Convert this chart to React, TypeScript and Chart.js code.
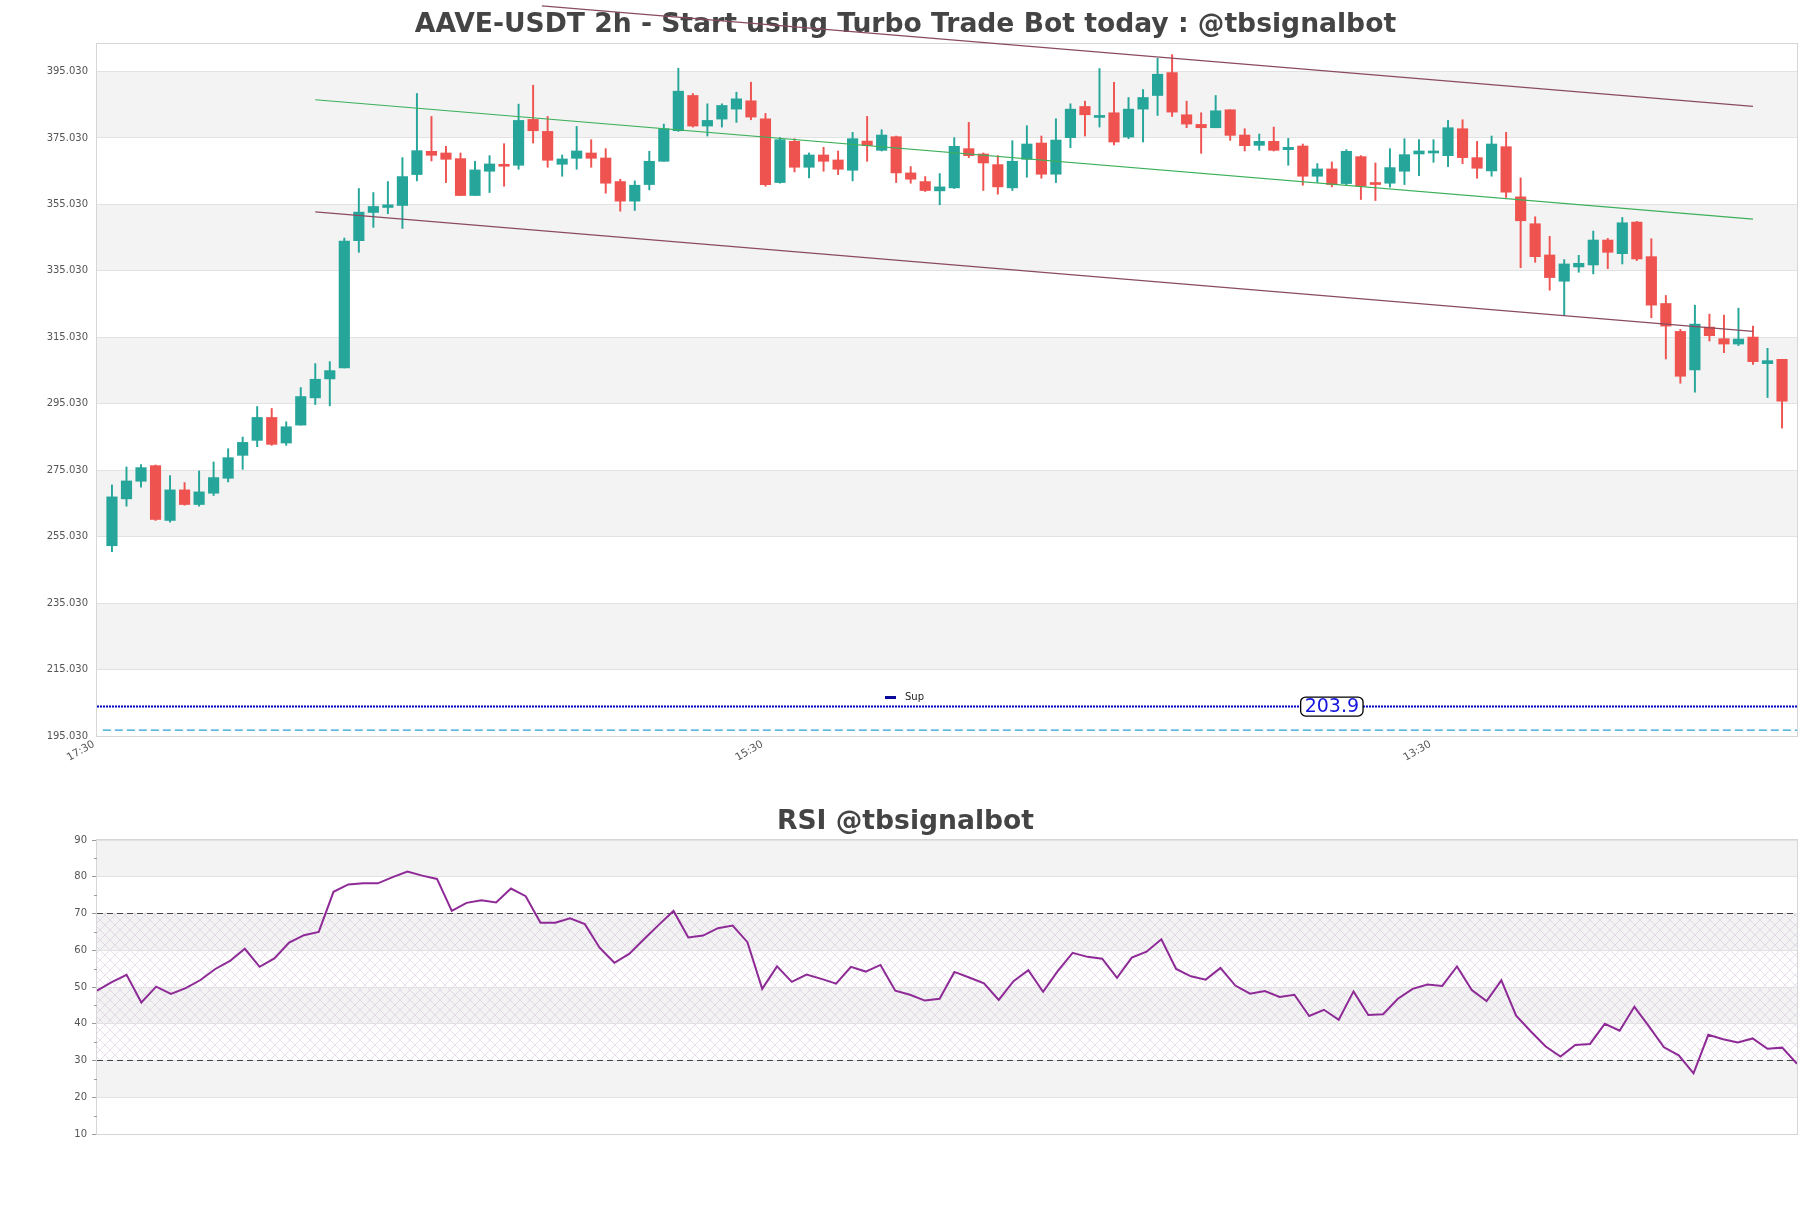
import React, { useEffect, useRef } from 'react';
import { Chart, registerables } from 'chart.js';

Chart.register(...registerables);

const FIG_W = 1811;
const FIG_H = 1208;
const MAIN_H = 790;
const RSI_H = FIG_H - MAIN_H;
const FONT = '"DejaVu Sans", "Liberation Sans", sans-serif';

const MAIN_TITLE = 'AAVE-USDT 2h - Start using Turbo Trade Bot today : @tbsignalbot';
const RSI_TITLE = 'RSI @tbsignalbot';

// ---- candle data (2h bars) ----
const opens = [
  252.3, 266.4, 271.7, 276.4, 259.9, 269.1, 264.7, 268.1, 272.6, 279.5,
  284.0, 290.9, 283.2, 288.6, 296.8, 302.5, 305.8, 344.1, 352.6, 354.1,
  354.7, 364.0, 371.0, 370.5, 368.8, 357.7, 365.0, 367.0, 366.8, 380.6,
  377.0, 367.1, 368.9, 370.5, 369.0, 361.9, 356.0, 361.0, 368.0, 377.2,
  387.8, 378.6, 380.7, 383.7, 386.2, 380.8, 361.6, 374.0, 366.2, 369.9,
  368.4, 365.3, 374.1, 371.3, 375.4, 364.5, 361.9, 359.1, 360.0, 371.8,
  370.2, 367.0, 360.0, 368.6, 373.5, 364.1, 375.1, 384.5, 381.2, 382.6,
  375.3, 383.7, 387.8, 394.7, 382.0, 379.1, 378.1, 383.5, 375.9, 372.8,
  374.0, 371.5, 372.6, 363.5, 365.7, 361.3, 369.4, 361.4, 361.4, 365.0,
  370.2, 370.5, 369.7, 377.8, 369.1, 365.1, 372.4, 357.3, 349.2, 339.8,
  331.9, 336.2, 336.8, 344.3, 340.2, 349.7, 339.3, 325.2, 316.8, 305.2,
  318.1, 314.6, 313.0, 315.1, 307.1, 308.4,
];
const highs = [
  270.6, 276.0, 276.7, 276.6, 273.4, 271.3, 274.8, 277.5, 281.5, 285.0,
  294.2, 293.6, 289.6, 299.9, 307.1, 307.7, 344.9, 359.8, 358.6, 361.9,
  369.1, 388.4, 381.5, 372.5, 370.5, 368.0, 369.7, 373.3, 385.2, 390.9,
  381.5, 369.9, 378.5, 374.5, 371.8, 362.6, 362.1, 371.0, 379.2, 396.0,
  388.4, 385.3, 385.3, 388.8, 391.8, 382.4, 375.1, 374.8, 370.5, 372.2,
  371.1, 376.7, 381.5, 377.5, 375.6, 366.4, 363.4, 364.3, 375.1, 379.7,
  370.5, 369.7, 374.2, 378.7, 375.6, 380.8, 385.3, 386.1, 395.9, 391.8,
  387.2, 389.6, 399.0, 400.1, 386.1, 382.6, 387.8, 383.5, 377.8, 376.2,
  378.3, 374.9, 373.2, 367.3, 367.8, 371.5, 369.7, 367.5, 371.8, 374.8,
  374.5, 374.5, 380.3, 380.5, 374.0, 375.6, 376.7, 363.0, 351.3, 345.4,
  338.4, 339.7, 347.0, 344.8, 351.1, 349.9, 344.7, 327.6, 317.4, 324.7,
  322.0, 321.7, 323.8, 318.4, 311.7, 308.4,
];
const lows = [
  250.5, 264.2, 269.9, 259.9, 259.4, 264.5, 264.2, 267.4, 271.5, 275.3,
  282.1, 282.5, 282.5, 288.6, 294.8, 294.4, 305.8, 340.6, 348.1, 352.2,
  347.8, 362.1, 368.1, 361.6, 357.7, 357.7, 358.6, 360.5, 365.6, 373.5,
  366.2, 363.5, 365.6, 366.2, 358.4, 353.0, 353.2, 359.4, 368.0, 377.0,
  378.3, 375.6, 378.3, 379.7, 380.5, 360.5, 361.4, 364.8, 363.0, 365.0,
  364.0, 362.1, 368.0, 371.1, 361.6, 361.4, 358.9, 354.9, 359.8, 369.1,
  359.2, 358.1, 359.2, 363.2, 362.9, 361.6, 372.1, 375.6, 378.3, 372.9,
  374.8, 373.8, 381.8, 381.5, 378.1, 370.4, 378.1, 374.3, 371.1, 371.3,
  371.1, 366.8, 360.8, 361.6, 360.3, 360.7, 356.5, 356.2, 360.2, 361.0,
  363.7, 367.7, 366.4, 367.3, 362.9, 363.5, 357.1, 336.0, 337.6, 329.2,
  321.7, 334.6, 334.1, 335.7, 337.1, 338.1, 320.9, 308.5, 301.2, 298.5,
  313.9, 310.4, 312.5, 306.9, 296.9, 287.7,
];
const closes = [
  267.0, 271.8, 275.8, 260.2, 269.1, 264.7, 268.5, 272.8, 278.8, 283.4,
  290.9, 282.8, 288.1, 297.2, 302.4, 305.0, 344.0, 352.7, 354.4, 354.9,
  363.4, 371.2, 369.8, 368.6, 357.7, 365.4, 367.2, 366.5, 380.3, 377.2,
  368.3, 368.7, 371.1, 368.9, 361.4, 356.0, 360.8, 368.0, 377.8, 389.1,
  378.6, 380.3, 384.8, 386.8, 381.3, 361.0, 374.5, 366.2, 369.9, 368.0,
  365.6, 374.8, 372.7, 375.9, 364.5, 362.6, 359.2, 360.3, 372.5, 369.7,
  367.5, 360.3, 368.0, 373.2, 364.1, 374.4, 383.7, 382.0, 381.5, 373.8,
  383.7, 387.2, 394.2, 382.8, 379.2, 378.1, 383.2, 375.8, 372.7, 374.0,
  371.3, 372.2, 363.5, 365.7, 361.0, 371.0, 360.5, 361.0, 366.1, 370.0,
  371.1, 371.1, 378.1, 369.1, 365.9, 373.2, 358.7, 350.1, 339.3, 333.0,
  337.1, 337.3, 344.3, 340.6, 349.5, 338.6, 324.7, 318.4, 303.3, 319.0,
  315.5, 313.0, 314.5, 307.7, 308.0, 295.8,
];

// ---- RSI values ----
const rsiValues = [
  49.0, 51.3, 53.3, 45.8, 50.1, 48.1, 49.7, 51.9, 54.9, 57.1,
  60.4, 55.5, 57.8, 62.1, 64.1, 65.0, 75.9, 77.9, 78.2, 78.2,
  79.9, 81.4, 80.3, 79.4, 70.7, 72.9, 73.6, 73.0, 76.8, 74.7,
  67.5, 67.5, 68.7, 67.1, 60.7, 56.6, 59.0, 63.0, 66.9, 70.7,
  63.5, 64.0, 66.0, 66.7, 62.2, 49.5, 55.6, 51.4, 53.4, 52.2,
  50.9, 55.5, 54.2, 56.0, 49.0, 47.9, 46.3, 46.8, 54.1, 52.6,
  51.0, 46.5, 51.6, 54.6, 48.7, 54.4, 59.3, 58.2, 57.7, 52.5,
  58.0, 59.6, 63.0, 54.9, 52.9, 52.0, 55.2, 50.4, 48.2, 48.9,
  47.3, 47.9, 42.1, 43.8, 41.1, 48.8, 42.4, 42.6, 46.8, 49.5,
  50.7, 50.3, 55.6, 49.2, 46.2, 51.8, 42.2, 37.9, 33.8, 31.1,
  34.2, 34.5, 40.0, 38.1, 44.6, 39.2, 33.6, 31.4, 26.5, 37.0,
  35.8, 34.9, 36.0, 33.2, 33.5, 29.1,
];

// ---- axes ----
const yTickValues = [195.03, 215.03, 235.03, 255.03, 275.03, 295.03, 315.03, 335.03, 355.03, 375.03, 395.03];
const yTickLabels = ['195.030', '215.030', '235.030', '255.030', '275.030', '295.030', '315.030', '335.030', '355.030', '375.030', '395.030'];
const xTickPositions = [-1.03, 45, 91];
const xTickLabels = ['17:30', '15:30', '13:30'];
const rsiTickValues = [10, 20, 30, 40, 50, 60, 70, 80, 90];
const rsiMinorTicks = [15, 25, 35, 45, 55, 65, 75, 85];

// ---- overlays ----
const upperChannel = [{ x: 29.6, y: 414.8 }, { x: 113, y: 384.5 }];
const midChannel = [{ x: 14, y: 386.5 }, { x: 113, y: 350.6 }];
const lowerChannel = [{ x: 14, y: 352.75 }, { x: 113, y: 316.8 }];
const supLevel = 203.9;
const supLabel = '203.9';
const supLabelIndex = 84;
const lowLevel = 196.8;
const rsiHigh = 70;
const rsiLow = 30;

const UP = '#26a69a';
const DOWN = '#ef5350';
const X_MIN = -1.03;
const X_MAX = 116.03;

function fixedAxis(size: number, horizontal: boolean) {
  return (s: any) => {
    if (horizontal) s.height = size;
    else s.width = size;
    s.paddingLeft = 0;
    s.paddingRight = 0;
    s.paddingTop = 0;
    s.paddingBottom = 0;
  };
}

function makeHatch(ctx: CanvasRenderingContext2D) {
  const c = document.createElement('canvas');
  c.width = 10;
  c.height = 10;
  const g = c.getContext('2d') as CanvasRenderingContext2D;
  g.strokeStyle = 'rgba(185,165,200,0.42)';
  g.lineWidth = 0.8;
  g.beginPath();
  g.moveTo(0, 0);
  g.lineTo(10, 10);
  g.moveTo(10, 0);
  g.lineTo(0, 10);
  g.stroke();
  return ctx.createPattern(c, 'repeat');
}

export default function App() {
  const mainRef = useRef<HTMLCanvasElement>(null);
  const rsiRef = useRef<HTMLCanvasElement>(null);

  useEffect(() => {
    document.body.style.margin = '0';
    const idx = opens.map((_, i) => i);
    const colors = idx.map((i) => (closes[i] >= opens[i] ? UP : DOWN));
    const wickData = idx.map((i) => ({ x: i, y: [lows[i], highs[i]] }));
    const bodyData = idx.map((i) => ({ x: i, y: [opens[i], closes[i]] }));

    const mainDecor = {
      id: 'mainDecor',
      beforeDraw(chart: any) {
        const { ctx, chartArea: a, scales } = chart;
        const y = scales.y;
        ctx.save();
        ctx.fillStyle = '#ffffff';
        ctx.fillRect(0, 0, chart.width, chart.height);
        ctx.fillStyle = '#f3f3f3';
        for (let k = 1; k < yTickValues.length - 1; k += 2) {
          const y0 = y.getPixelForValue(yTickValues[k]);
          const y1 = y.getPixelForValue(yTickValues[k + 1]);
          ctx.fillRect(a.left, y1, a.right - a.left, y0 - y1);
        }
        ctx.restore();
      },
      beforeDatasetsDraw(chart: any) {
        const { ctx, chartArea: a } = chart;
        ctx.save();
        ctx.strokeStyle = '#d6d6d6';
        ctx.lineWidth = 1;
        ctx.strokeRect(Math.round(a.left) - 0.5, Math.round(a.top) - 0.5, Math.round(a.right - a.left) + 1, Math.round(a.bottom - a.top) + 1);
        ctx.fillStyle = '#444444';
        ctx.font = 'bold 26.6px ' + FONT;
        ctx.textAlign = 'center';
        ctx.textBaseline = 'middle';
        ctx.fillText(MAIN_TITLE, FIG_W / 2, 25);
        ctx.restore();
      },
      afterDatasetsDraw(chart: any) {
        const { ctx, scales } = chart;
        const yp = scales.y.getPixelForValue(supLevel);
        const xp = scales.x.getPixelForValue(supLabelIndex);
        ctx.save();
        ctx.font = '19px ' + FONT;
        const tw = ctx.measureText(supLabel).width;
        const bw = tw + 8;
        const bh = 19;
        ctx.beginPath();
        (ctx as any).roundRect(xp - bw / 2, yp - bh / 2, bw, bh, 5);
        ctx.fillStyle = '#ffffff';
        ctx.fill();
        ctx.strokeStyle = '#000000';
        ctx.lineWidth = 1.3;
        ctx.stroke();
        ctx.fillStyle = '#1515dd';
        ctx.textAlign = 'center';
        ctx.textBaseline = 'middle';
        ctx.fillText(supLabel, xp, yp + 1);
        // legend
        ctx.strokeStyle = '#0a0a9a';
        ctx.lineWidth = 3;
        ctx.beginPath();
        ctx.moveTo(885, 697.5);
        ctx.lineTo(896, 697.5);
        ctx.stroke();
        ctx.fillStyle = '#222222';
        ctx.font = '10px ' + FONT;
        ctx.textAlign = 'left';
        ctx.fillText('Sup', 905, 697);
        ctx.restore();
      },
    };

    const lineDs = (label: string, data: any, color: string, width: number, dash: number[] = []) => ({
      type: 'line',
      label,
      data,
      borderColor: color,
      borderWidth: width,
      borderDash: dash,
      pointRadius: 0,
      fill: false,
      tension: 0,
      clip: false,
      order: 0,
    });

    const main = new Chart(mainRef.current as HTMLCanvasElement, {
      type: 'bar',
      data: {
        datasets: [
          {
            type: 'bar',
            label: 'wick',
            data: wickData,
            backgroundColor: colors,
            borderWidth: 0,
            barThickness: 1.3,
            grouped: false,
            order: 2,
          },
          {
            type: 'bar',
            label: 'body',
            data: bodyData,
            backgroundColor: colors,
            borderWidth: 0,
            barThickness: 10.5,
            minBarLength: 2,
            grouped: false,
            order: 1,
          },
          lineDs('upper', upperChannel, '#8a4a60', 1.2),
          lineDs('mid', midChannel, '#3bb05a', 1.1),
          lineDs('lower', lowerChannel, '#8a4a60', 1.2),
          lineDs('Sup', [{ x: X_MIN, y: supLevel }, { x: X_MAX, y: supLevel }], '#0000c0', 2, [2, 1]),
          lineDs('low', [{ x: X_MIN + 0.4, y: lowLevel }, { x: X_MAX, y: lowLevel }], '#2a9fd8', 1.2, [8, 4]),
        ] as any,
      },
      options: {
        responsive: false,
        animation: false,
        devicePixelRatio: 1,
        layout: { padding: { left: 0, right: 14, top: 44, bottom: 0 } },
        plugins: {
          legend: { display: false },
          title: { display: false },
          tooltip: { enabled: false },
        },
        scales: {
          x: {
            type: 'linear',
            min: X_MIN,
            max: X_MAX,
            offset: false,
            bounds: 'ticks',
            grace: 0,
            grid: { display: false, drawTicks: false, offset: false },
            border: { display: false },
            afterDataLimits: (s: any) => {
              s.min = X_MIN;
              s.max = X_MAX;
            },
            afterBuildTicks: (s: any) => {
              s.ticks = xTickPositions.map((v) => ({ value: v }));
            },
            ticks: {
              autoSkip: false,
              minRotation: 30,
              maxRotation: 30,
              padding: 2,
              labelOffset: -3,
              color: '#555555',
              font: { size: 10.5, family: FONT },
              callback: (_v: any, i: number) => xTickLabels[i],
            },
            afterFit: fixedAxis(MAIN_H - 736, true),
          },
          y: {
            type: 'linear',
            min: 195.03,
            max: 403.3,
            grid: { color: '#e2e2e2', lineWidth: 1, drawTicks: false },
            border: { display: false },
            afterBuildTicks: (s: any) => {
              s.ticks = yTickValues.map((v) => ({ value: v }));
            },
            ticks: {
              padding: 9,
              color: '#555555',
              font: { size: 10, family: FONT },
              callback: (_v: any, i: number) => yTickLabels[i],
            },
            afterFit: fixedAxis(97, false),
          },
        },
      } as any,
      plugins: [mainDecor],
    } as any);

    const rsiDecor = {
      id: 'rsiDecor',
      beforeDraw(chart: any) {
        const { ctx, chartArea: a, scales } = chart;
        const y = scales.y;
        ctx.save();
        ctx.fillStyle = '#ffffff';
        ctx.fillRect(0, 0, chart.width, chart.height);
        ctx.fillStyle = '#f3f3f3';
        for (let k = 1; k < rsiTickValues.length - 1; k += 2) {
          const y0 = y.getPixelForValue(rsiTickValues[k]);
          const y1 = y.getPixelForValue(rsiTickValues[k + 1]);
          ctx.fillRect(a.left, y1, a.right - a.left, y0 - y1);
        }
        const pat = makeHatch(ctx);
        if (pat) {
          const yh = y.getPixelForValue(rsiHigh);
          const yl = y.getPixelForValue(rsiLow);
          ctx.fillStyle = pat;
          ctx.fillRect(a.left, yh, a.right - a.left, yl - yh);
        }
        ctx.restore();
      },
      beforeDatasetsDraw(chart: any) {
        const { ctx, chartArea: a, scales } = chart;
        ctx.save();
        ctx.strokeStyle = '#d6d6d6';
        ctx.lineWidth = 1;
        ctx.strokeRect(Math.round(a.left) - 0.5, Math.round(a.top) - 0.5, Math.round(a.right - a.left) + 1, Math.round(a.bottom - a.top) + 1);
        ctx.strokeStyle = '#9a9a9a';
        ctx.beginPath();
        for (const v of rsiMinorTicks) {
          const yp = Math.round(scales.y.getPixelForValue(v)) + 0.5;
          ctx.moveTo(a.left - 3, yp);
          ctx.lineTo(a.left, yp);
        }
        ctx.stroke();
        ctx.fillStyle = '#444444';
        ctx.font = 'bold 26.6px ' + FONT;
        ctx.textAlign = 'center';
        ctx.textBaseline = 'middle';
        ctx.fillText(RSI_TITLE, FIG_W / 2, 32);
        ctx.restore();
      },
    };

    const rsi = new Chart(rsiRef.current as HTMLCanvasElement, {
      type: 'line',
      data: {
        datasets: [
          {
            label: 'RSI',
            data: rsiValues.map((v, j) => ({ x: j, y: v })),
            borderColor: '#8e2a96',
            borderWidth: 2,
            pointRadius: 0,
            tension: 0,
            fill: false,
            order: 0,
          },
          {
            label: 'hi',
            data: [{ x: 0, y: rsiHigh }, { x: rsiValues.length - 1, y: rsiHigh }],
            borderColor: '#444444',
            borderWidth: 1.2,
            borderDash: [6, 4],
            pointRadius: 0,
            order: 1,
          },
          {
            label: 'lo',
            data: [{ x: 0, y: rsiLow }, { x: rsiValues.length - 1, y: rsiLow }],
            borderColor: '#444444',
            borderWidth: 1.2,
            borderDash: [6, 4],
            pointRadius: 0,
            order: 1,
          },
        ],
      },
      options: {
        responsive: false,
        animation: false,
        devicePixelRatio: 1,
        layout: { padding: { left: 0, right: 14, top: 50, bottom: 74 } },
        plugins: {
          legend: { display: false },
          title: { display: false },
          tooltip: { enabled: false },
        },
        scales: {
          x: { type: 'linear', min: 0, max: rsiValues.length - 1, display: false },
          y: {
            type: 'linear',
            min: 10,
            max: 90,
            grid: { color: '#e2e2e2', lineWidth: 1, drawTicks: true, tickLength: 5, tickColor: '#9a9a9a' },
            border: { display: false },
            afterBuildTicks: (s: any) => {
              s.ticks = rsiTickValues.map((v) => ({ value: v }));
            },
            ticks: {
              padding: 5,
              color: '#555555',
              font: { size: 10, family: FONT },
              callback: (v: any) => String(v),
            },
            afterFit: fixedAxis(97, false),
          },
        },
      } as any,
      plugins: [rsiDecor],
    } as any);

    return () => {
      main.destroy();
      rsi.destroy();
    };
  }, []);

  return (
    <div style={{ position: 'absolute', left: 0, top: 0, width: FIG_W, height: FIG_H, background: '#ffffff' }}>
      <canvas
        ref={mainRef}
        width={FIG_W}
        height={MAIN_H}
        style={{ position: 'absolute', left: 0, top: 0, width: FIG_W, height: MAIN_H }}
      />
      <canvas
        ref={rsiRef}
        width={FIG_W}
        height={RSI_H}
        style={{ position: 'absolute', left: 0, top: MAIN_H, width: FIG_W, height: RSI_H }}
      />
    </div>
  );
}
